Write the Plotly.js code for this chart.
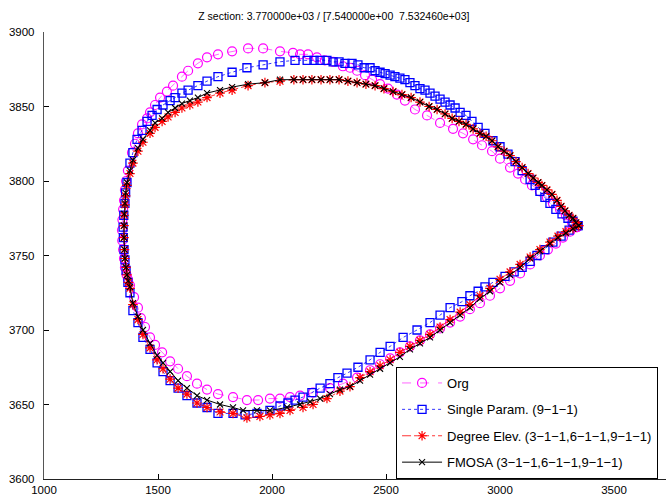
<!DOCTYPE html>
<html>
<head>
<meta charset="utf-8">
<script src="https://cdn.plot.ly/plotly-3.0.1.min.js"></script>
<style>html,body{margin:0;padding:0;background:#fff;}#chart{width:666px;height:502px;}</style>
</head>
<body>
<div id="chart"></div>
<script>
// ---- Data ----
const seriesNames = ["Org", "Single Param. (9\u22121\u22121)", "Degree Elev. (3\u22121\u22121,6\u22121\u22121,9\u22121\u22121)", "FMOSA (3\u22121\u22121,6\u22121\u22121,9\u22121\u22121)"];

const orgX = [3338,3316,3289,3263,3232,3206,3175,3140,3110,3079,3044,3000,2965,2921,2882,2838,2794,2737,2680,2627,2583,2548,2509,2474,2439,2408,2373,2342,2311,2268,2232,2197,2158,2123,2092,2035,1961,1895,1825,1763,1715,1675,1632,1605,1566,1539,1509,1487,1465,1452,1430,1412,1399,1386,1368,1360,1355,1351,1347,1344,1342,1343,1347,1351,1355,1362,1368,1377,1395,1412,1425,1443,1465,1487,1518,1553,1588,1627,1671,1715,1763,1829,1890,1939,1991,2035,2079,2123,2180,2254,2311,2373,2430,2474,2518,2561,2605,2649,2693,2737,2781,2825,2868,2912,2956,3000,3044,3088,3132,3175,3210,3245,3276,3307,3338];
const orgY = [3769,3772,3777,3781,3785,3789,3793,3797,3801,3805,3809,3815,3820,3824,3828,3832,3835,3839,3844,3848,3854,3858,3862,3865,3868,3871,3874,3876,3877,3880,3881,3883,3885,3885,3886,3887,3889,3889,3887,3885,3883,3879,3874,3870,3864,3860,3856,3851,3846,3842,3838,3832,3825,3819,3807,3800,3794,3787,3781,3774,3767,3760,3754,3748,3742,3737,3734,3730,3722,3715,3708,3702,3695,3690,3685,3679,3674,3669,3664,3660,3657,3655,3653,3653,3654,3654,3655,3656,3658,3661,3664,3668,3673,3677,3681,3685,3689,3693,3697,3701,3705,3709,3714,3718,3723,3728,3733,3738,3744,3750,3754,3758,3762,3766,3769];

const singleX = [3342,3320,3298,3272,3245,3219,3197,3175,3154,3132,3097,3066,3035,3000,2969,2934,2904,2877,2851,2825,2803,2781,2759,2737,2715,2693,2671,2649,2627,2605,2583,2561,2539,2518,2496,2474,2452,2430,2404,2377,2351,2320,2294,2268,2241,2211,2184,2154,2101,2035,1961,1890,1825,1763,1715,1675,1632,1605,1575,1553,1522,1496,1474,1452,1430,1408,1390,1377,1364,1358,1355,1350,1347,1348,1351,1355,1360,1368,1377,1390,1412,1434,1465,1496,1522,1553,1588,1627,1671,1715,1763,1829,1882,1934,1991,2035,2070,2101,2136,2175,2211,2254,2289,2329,2377,2430,2474,2518,2575,2636,2693,2737,2781,2833,2868,2904,2934,2969,3022,3062,3097,3132,3162,3197,3232,3268,3303,3342];
const singleY = [3770,3773,3775,3778,3781,3785,3789,3793,3797,3801,3807,3813,3818,3823,3827,3832,3836,3840,3844,3846,3849,3851,3853,3855,3857,3859,3861,3862,3864,3866,3868,3869,3870,3871,3872,3873,3874,3876,3876,3878,3879,3879,3880,3880,3881,3881,3881,3881,3881,3880,3878,3876,3873,3870,3867,3864,3861,3859,3856,3854,3851,3848,3844,3840,3834,3828,3819,3812,3799,3792,3785,3777,3769,3762,3754,3747,3740,3732,3725,3713,3705,3695,3687,3678,3672,3666,3661,3656,3651,3648,3644,3644,3643,3644,3646,3649,3651,3653,3655,3658,3661,3664,3668,3671,3675,3680,3685,3689,3695,3700,3705,3710,3715,3719,3723,3726,3729,3732,3736,3739,3742,3746,3750,3754,3759,3763,3767,3770];

const degreeX = [3345,3333,3320,3303,3285,3268,3250,3228,3206,3184,3167,3145,3123,3097,3070,3044,3018,2991,2965,2939,2912,2882,2851,2820,2790,2759,2724,2689,2649,2610,2570,2531,2491,2452,2412,2373,2333,2294,2254,2215,2175,2136,2096,2035,1969,1895,1825,1772,1715,1675,1640,1605,1575,1544,1518,1487,1465,1434,1412,1390,1377,1364,1358,1355,1352,1351,1351,1353,1355,1360,1364,1370,1377,1390,1412,1434,1465,1496,1522,1553,1588,1627,1671,1715,1772,1829,1890,1947,1991,2035,2079,2136,2180,2241,2298,2342,2386,2430,2474,2518,2561,2605,2649,2693,2737,2781,2825,2868,2912,2956,3000,3044,3088,3132,3175,3219,3254,3289,3320,3345];
const degreeY = [3770,3772,3775,3777,3780,3783,3787,3791,3794,3797,3799,3802,3805,3809,3813,3817,3820,3823,3827,3830,3832,3835,3838,3840,3842,3845,3848,3850,3853,3856,3858,3860,3862,3864,3865,3866,3867,3868,3868,3868,3868,3868,3868,3867,3866,3864,3861,3859,3856,3853,3851,3849,3846,3843,3840,3836,3832,3826,3820,3812,3805,3797,3790,3784,3777,3770,3762,3754,3748,3742,3737,3732,3728,3717,3707,3697,3688,3680,3674,3667,3661,3657,3651,3648,3645,3644,3641,3642,3643,3644,3646,3648,3650,3654,3659,3662,3668,3672,3676,3680,3685,3689,3693,3697,3702,3707,3712,3717,3723,3728,3734,3739,3744,3749,3754,3759,3763,3766,3768,3770];

const fmosaX = [3345,3333,3320,3303,3285,3268,3250,3228,3206,3184,3167,3145,3123,3097,3070,3044,3018,2991,2965,2939,2912,2882,2851,2820,2790,2759,2724,2689,2649,2610,2570,2531,2491,2452,2412,2373,2333,2294,2254,2215,2175,2136,2096,2035,1969,1895,1825,1772,1715,1675,1640,1605,1575,1544,1518,1487,1465,1434,1412,1390,1377,1364,1358,1355,1352,1351,1351,1353,1355,1360,1364,1370,1377,1390,1412,1434,1465,1496,1522,1553,1588,1627,1671,1715,1772,1829,1873,1934,1991,2066,2123,2167,2211,2254,2298,2342,2386,2430,2474,2518,2561,2605,2649,2693,2737,2781,2825,2868,2912,2956,3000,3044,3088,3132,3175,3219,3254,3289,3320,3345];
const fmosaY = [3770,3772,3775,3777,3780,3783,3787,3791,3794,3797,3799,3802,3805,3809,3813,3817,3820,3823,3827,3830,3832,3835,3838,3840,3842,3845,3848,3850,3853,3856,3858,3860,3862,3864,3865,3866,3867,3868,3868,3868,3868,3868,3868,3868,3866,3865,3863,3861,3859,3856,3854,3852,3849,3846,3842,3839,3834,3828,3822,3814,3807,3799,3792,3785,3778,3770,3762,3754,3748,3742,3737,3733,3729,3718,3709,3700,3691,3683,3678,3672,3666,3661,3656,3653,3650,3648,3646,3646,3646,3648,3650,3652,3654,3657,3660,3662,3666,3670,3674,3678,3682,3687,3691,3695,3700,3705,3710,3715,3721,3726,3732,3737,3742,3748,3753,3758,3762,3765,3768,3770];

const xTicks = [1000, 1500, 2000, 2500, 3000, 3500];
const yTicks = [3600, 3650, 3700, 3750, 3800, 3850, 3900];
const titleText = "Z section: 3.770000e+03 / [7.540000e+00\u00a0 7.532460e+03]";

// ---- Plot ----
const FONT = "Liberation Sans, Arial, Helvetica, sans-serif";
const traces = [
  {x: orgX, y: orgY, name: seriesNames[0], legendgroup: "a", mode: "lines+markers", type: "scatter",
   line: {color: "#ff00ff", dash: "dash", width: 0.6},
   marker: {symbol: "circle-open", size: 9, color: "#ff00ff", line: {width: 1.2}}},
  {x: singleX, y: singleY, name: seriesNames[1], legendgroup: "b", mode: "lines+markers", type: "scatter",
   line: {color: "#0000ff", dash: "dot", width: 0.8},
   marker: {symbol: "square-open", size: 8, color: "#0000ff", line: {width: 1.3}}},
  {x: degreeX, y: degreeY, name: seriesNames[2], legendgroup: "c", mode: "lines+markers", type: "scatter",
   line: {color: "#ff0000", dash: "dashdot", width: 0.8},
   marker: {symbol: "asterisk-open", size: 8, color: "#ff0000", line: {width: 1.2, color: "#ff0000"}}},
  {x: fmosaX, y: fmosaY, name: seriesNames[3], legendgroup: "d", mode: "lines+markers", type: "scatter",
   line: {color: "#000000", width: 1},
   marker: {symbol: "x-thin-open", size: 6, color: "#000000", line: {width: 1.1, color: "#000000"}}}
];

const layout = {
  width: 666, height: 502,
  margin: {l: 44, r: 0, t: 32, b: 23, pad: 0},
  paper_bgcolor: "#ffffff", plot_bgcolor: "#ffffff",
  font: {family: FONT, size: 11.5, color: "#000"},
  title: {text: titleText, font: {family: FONT, size: 10.5, color: "#000"},
          x: 0.466, xref: "paper", xanchor: "center", y: 0.968, yref: "container", yanchor: "middle"},
  xaxis: {range: [1000, 3728], tickvals: xTicks, ticks: "inside", ticklen: 5, tickcolor: "#000",
          showline: true, linecolor: "#222", linewidth: 1, showgrid: false, zeroline: false,
          tickfont: {family: FONT, size: 11.5, color: "#000"}},
  yaxis: {range: [3600, 3900], tickvals: yTicks, ticks: "inside", ticklen: 5, tickcolor: "#000",
          showline: true, linecolor: "#555", linewidth: 1.2, showgrid: false, zeroline: false,
          ticklabelstandoff: 6,
          tickfont: {family: FONT, size: 11.5, color: "#000"}},
  showlegend: true,
  legend: {x: 0.566, xanchor: "left", y: 0, yanchor: "bottom", bgcolor: "#ffffff",
           bordercolor: "#000", borderwidth: 1, traceorder: "grouped", tracegroupgap: 6.5,
           itemwidth: 40, font: {family: FONT, size: 13, color: "#000"}}
};

Plotly.newPlot("chart", traces, layout, {displayModeBar: false, staticPlot: true});
</script>
</body>
</html>
